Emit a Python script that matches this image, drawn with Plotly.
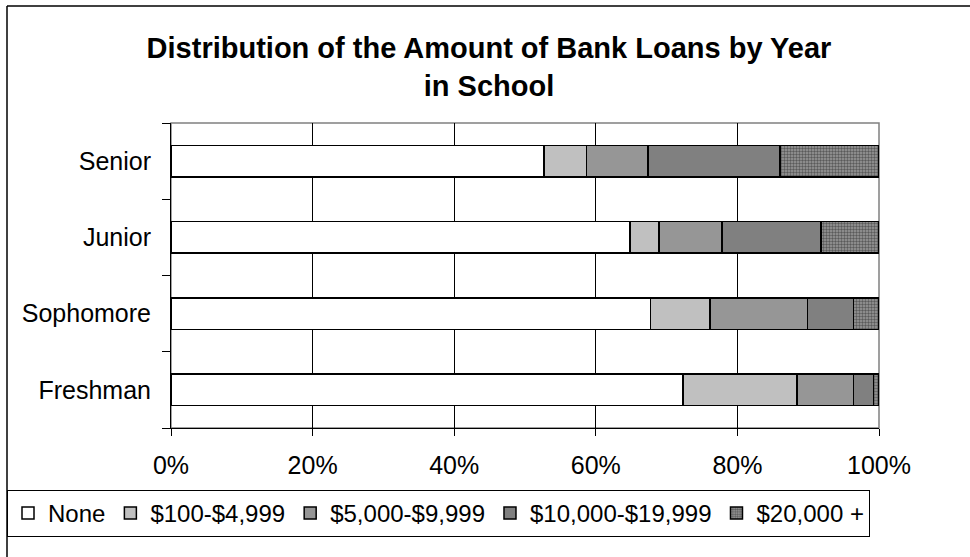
import plotly.graph_objects as go

years = ["Freshman", "Sophomore", "Junior", "Senior"]
series_names = ["None", "$100-$4,999", "$5,000-$9,999", "$10,000-$19,999", "$20,000 +"]
none_vals = [72.3, 67.7, 64.8, 52.7]
v100 = [16.1, 8.4, 4.1, 6.0]
v5000 = [8.0, 13.8, 8.9, 8.7]
v10000 = [2.8, 6.5, 14.0, 18.6]
v20000 = [0.8, 3.6, 8.2, 14.0]
x_ticks = [0, 20, 40, 60, 80, 100]
x_tick_labels = ["0%", "20%", "40%", "60%", "80%", "100%"]

series_vals = [none_vals, v100, v5000, v10000, v20000]
colors = ["#FFFFFF", "#C0C0C0", "#969696", "#808080", "#8A8A8A"]
FONT = "Liberation Sans, Arial, sans-serif"

# plot-area pixel geometry
L, R, T, B = 171, 879, 123, 428
W, H = 970, 557
pw, ph = R - L, B - T
def px2x(px): return (px - L) / pw
def py2y(py): return (B - py) / ph

fig = go.Figure()
for i, (name, vals) in enumerate(zip(series_names, series_vals)):
    marker = dict(color=colors[i], line=dict(color="#000000", width=1.5))
    if i == 4:
        marker["pattern"] = dict(shape=".", fgcolor="#1A1A1A", bgcolor="#9A9A9A",
                                 size=3, solidity=0.5)
    fig.add_trace(go.Bar(y=years, x=vals, name=name, orientation="h", marker=marker))

fig.update_layout(
    width=W, height=H,
    margin=dict(l=L, r=W - R, t=T, b=H - B, autoexpand=False),
    barmode="stack", bargap=0.59,
    paper_bgcolor="white", plot_bgcolor="white",
    font=dict(family=FONT, size=25, color="#000000"),
    title=dict(text="<b>Distribution of the Amount of Bank Loans by Year<br>in School</b>",
               x=489 / W, xanchor="center", xref="container",
               y=1 - 58 / H, yanchor="top", yref="container",
               font=dict(family=FONT, size=29, color="#000000")),
    showlegend=True,
    legend=dict(orientation="h", x=px2x(7), xanchor="left", y=py2y(490), yanchor="top",
                traceorder="normal", bordercolor="#000000", borderwidth=1,
                font=dict(family=FONT, size=24), bgcolor="white"),
    xaxis=dict(range=[0, 100], tickvals=x_ticks, ticktext=x_tick_labels,
               showgrid=True, gridcolor="#000000", gridwidth=1,
               showline=True, linecolor="#000000", linewidth=1,
               ticks="outside", ticklen=7, tickcolor="#000000",
               ticklabelstandoff=8, zeroline=False, fixedrange=True, automargin=False),
    yaxis=dict(categoryorder="array", categoryarray=years,
               showline=True, linecolor="#000000", linewidth=1,
               ticks="outside", tickson="boundaries", ticklen=8, tickcolor="#000000",
               ticklabelstandoff=14, showgrid=False, fixedrange=True, automargin=False),
    shapes=[
        # outer chart border: top and left edges (right/bottom lie outside the image)
        dict(type="line", xref="paper", yref="paper",
             x0=px2x(7), x1=px2x(975), y0=py2y(6), y1=py2y(6),
             line=dict(color="#000000", width=1.5), layer="below"),
        dict(type="line", xref="paper", yref="paper",
             x0=px2x(7), x1=px2x(7), y0=py2y(6), y1=py2y(560),
             line=dict(color="#000000", width=1.5), layer="below"),
        # plot area border (gray)
        dict(type="rect", xref="paper", yref="paper", x0=0, x1=1, y0=0, y1=1,
             line=dict(color="#808080", width=1.5), layer="below"),
    ],
)
fig.write_html("out.html")
